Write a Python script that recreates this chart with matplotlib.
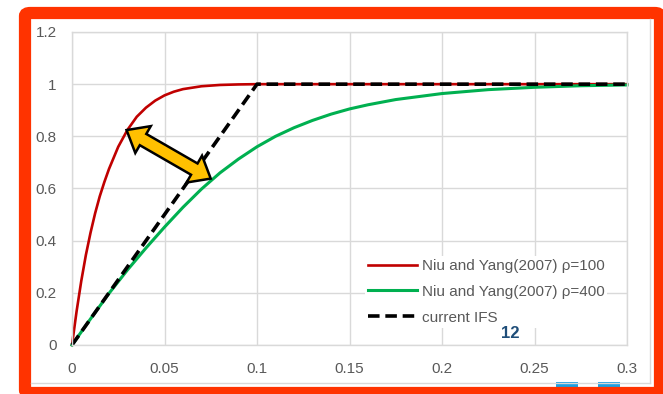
import numpy as np
import matplotlib
matplotlib.use("Agg")
import matplotlib.pyplot as plt
from matplotlib.patches import Polygon, FancyBboxPatch, Rectangle
from matplotlib.lines import Line2D
from matplotlib.transforms import IdentityTransform

plt.rcParams['font.family'] = ['Liberation Sans', 'DejaVu Sans']

# values
red_x = [0, 0.0025, 0.005, 0.0075, 0.01, 0.0125, 0.015, 0.0175, 0.02, 0.025, 0.03,
         0.035, 0.04, 0.045, 0.05, 0.055, 0.06, 0.07, 0.08, 0.09, 0.1, 0.15, 0.2, 0.25, 0.3]
red_y = [0, 0.13, 0.245, 0.345, 0.43, 0.505, 0.57, 0.625, 0.675, 0.76, 0.825,
         0.875, 0.91, 0.937, 0.957, 0.971, 0.981, 0.992, 0.997, 0.999, 1.0, 1.0, 1.0, 1.0, 1.0]
green_x = [0, 0.01, 0.02, 0.03, 0.04, 0.05, 0.06, 0.07, 0.08, 0.09, 0.1, 0.11, 0.12,
           0.13, 0.14, 0.15, 0.16, 0.175, 0.2, 0.225, 0.25, 0.275, 0.3]
green_y = [0, 0.10, 0.198, 0.288, 0.372, 0.452, 0.528, 0.598, 0.66, 0.713, 0.76, 0.80, 0.833,
           0.861, 0.885, 0.905, 0.921, 0.941, 0.964, 0.979, 0.988, 0.994, 0.997]
ifs_x = [0, 0.1, 0.3]
ifs_y = [0, 1, 1]
labels = ["Niu and Yang(2007) \u03c1=100", "Niu and Yang(2007) \u03c1=400", "current IFS"]
xticks = [0, 0.05, 0.1, 0.15, 0.2, 0.25, 0.3]
xtick_labels = ["0", "0.05", "0.1", "0.15", "0.2", "0.25", "0.3"]
yticks = [0, 0.2, 0.4, 0.6, 0.8, 1.0, 1.2]
ytick_labels = ["0", "0.2", "0.4", "0.6", "0.8", "1", "1.2"]
arrow_start = (0.0295, 0.824)
arrow_end = (0.0750, 0.638)
slide_number = "12"

W, H = 663, 394
fig = plt.figure(figsize=(W / 100, H / 100), dpi=100)
fig.patch.set_facecolor("white")

def fx(x):
    return x / W

def fy(y):
    return 1 - y / H

ax = fig.add_axes([fx(72), fy(345), fx(627) - fx(72), fy(32) - fy(345)])
ax.set_xlim(0, 0.3)
ax.set_ylim(0, 1.2)
ax.set_xticks(xticks)
ax.set_xticklabels(xtick_labels)
ax.set_yticks(yticks)
ax.set_yticklabels(ytick_labels)
ax.grid(True, color="#D9D9D9", lw=1.0)
ax.set_axisbelow(True)
for s in ax.spines.values():
    s.set_color("#D9D9D9")
    s.set_linewidth(1.0)
ax.tick_params(length=0, labelsize=11, labelcolor="#595959")
ax.tick_params(axis="y", pad=11)
ax.tick_params(axis="x", pad=12)

ax.plot(red_x, red_y, color="#C00000", lw=1.9, label=labels[0], clip_on=False)
ax.plot(green_x, green_y, color="#00B050", lw=2.2, label=labels[1], clip_on=False)
ax.plot(ifs_x, ifs_y, color="black", lw=2.6, dashes=(3.2, 1.6), label=labels[2], clip_on=False)

leg = ax.legend(loc="upper left", bbox_to_anchor=(0.528, 0.285), frameon=True, fontsize=11,
                handlelength=3.2, handletextpad=0.3, labelspacing=0.78, borderpad=0.2,
                borderaxespad=0, fancybox=False)
leg.get_frame().set_facecolor("white")
leg.get_frame().set_edgecolor("none")
leg.get_frame().set_alpha(1)
for t in leg.get_texts():
    t.set_color("#595959")

ax.text(fx(510), fy(333), slide_number, transform=fig.transFigure, ha="center", va="center",
        fontsize=12, fontweight="bold", color="#1F4E79", zorder=10)

# double-headed arrow between the two curves, drawn in pixel space
fig.canvas.draw()
p1 = np.array(ax.transData.transform(arrow_start))
p2 = np.array(ax.transData.transform(arrow_end))
u = (p2 - p1) / np.linalg.norm(p2 - p1)
n = np.array([-u[1], u[0]])
hl, hw, sw = 19, 31, 13
pts = [p1,
       p1 + u * hl + n * hw / 2, p1 + u * hl + n * sw / 2,
       p2 - u * hl + n * sw / 2, p2 - u * hl + n * hw / 2,
       p2,
       p2 - u * hl - n * hw / 2, p2 - u * hl - n * sw / 2,
       p1 + u * hl - n * sw / 2, p1 + u * hl - n * hw / 2]
arr = Polygon(pts, closed=True, facecolor="#FFC000", edgecolor="black", lw=1.8,
              joinstyle="miter", transform=IdentityTransform())
fig.add_artist(arr)

# chart area border
fig.add_artist(Line2D([fx(31), fx(650)], [fy(383), fy(383)], color="#D9D9D9", lw=1.0))
fig.add_artist(Line2D([fx(650), fx(650)], [fy(19), fy(383)], color="#D9D9D9", lw=1.0))

# bits of blue icons peeking at the bottom
for bx in [556, 598]:
    fig.add_artist(Rectangle((fx(bx), fy(390)), fx(22), fy(382) - fy(390),
                             facecolor="#1DA1E2", edgecolor="none"))

# orange-red frame
fig.add_artist(FancyBboxPatch((fx(25), fy(393)), fx(660) - fx(25), fy(13) - fy(393),
                              boxstyle="round,pad=0,rounding_size=0.008",
                              facecolor="none", edgecolor="#FF3300", lw=8.8))

fig.savefig("out.png", dpi=100)
